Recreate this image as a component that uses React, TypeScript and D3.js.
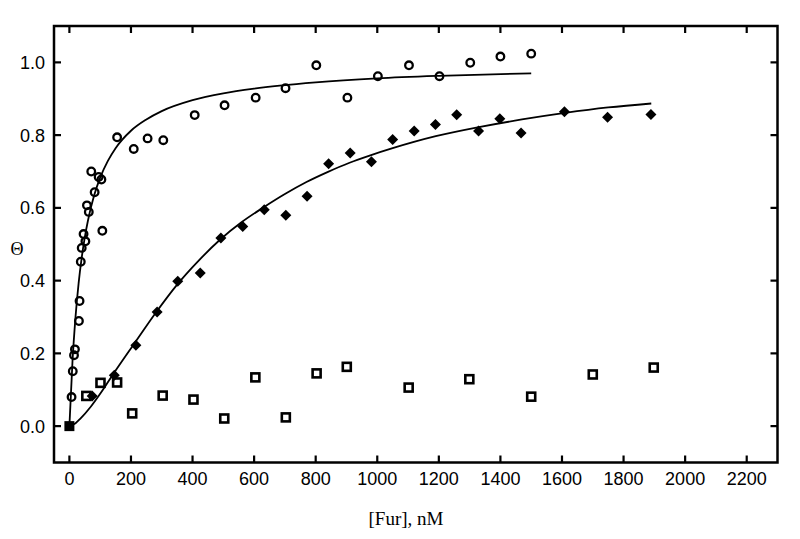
import React from "react";
import * as d3 from "d3";

const circleX = [7, 11, 15, 18, 31, 33, 37, 40, 46, 52, 57, 63, 71, 82, 95, 104, 107, 155, 209, 254, 305, 407, 504, 605, 702, 802, 903, 1002, 1103, 1202, 1302, 1400, 1500];
const circleY = [0.08, 0.151, 0.195, 0.211, 0.289, 0.344, 0.452, 0.49, 0.528, 0.508, 0.607, 0.589, 0.70, 0.643, 0.685, 0.678, 0.537, 0.794, 0.762, 0.791, 0.786, 0.855, 0.882, 0.903, 0.929, 0.992, 0.903, 0.962, 0.992, 0.962, 0.999, 1.016, 1.024];

const diamondX = [74, 146, 216, 285, 352, 425, 492, 563, 633, 703, 772, 842, 912, 981, 1050, 1120, 1189, 1258, 1329, 1398, 1467, 1608, 1748, 1889];
const diamondY = [0.083, 0.14, 0.222, 0.314, 0.398, 0.421, 0.517, 0.549, 0.595, 0.58, 0.632, 0.721, 0.751, 0.727, 0.788, 0.811, 0.829, 0.856, 0.811, 0.845, 0.806, 0.864, 0.849, 0.857];

const squareX = [55, 101, 155, 204, 303, 403, 503, 604, 703, 803, 901, 1102, 1299, 1500, 1700, 1898];
const squareY = [0.083, 0.119, 0.12, 0.035, 0.084, 0.073, 0.021, 0.134, 0.024, 0.145, 0.163, 0.106, 0.129, 0.081, 0.142, 0.161];

const originX = [0];
const originY = [0];

const fitCircleX = [0, 10, 20, 30, 40, 50, 60, 80, 100, 125, 150, 200, 250, 300, 400, 500, 600, 800, 1000, 1200, 1500];
const fitCircleY = [0, 0.177, 0.301, 0.393, 0.463, 0.519, 0.564, 0.633, 0.683, 0.729, 0.764, 0.812, 0.843, 0.866, 0.896, 0.915, 0.928, 0.945, 0.956, 0.963, 0.97];

const fitDiamondX = [0, 20, 35, 70, 105, 140, 210, 280, 350, 420, 490, 560, 630, 700, 770, 840, 910, 980, 1050, 1190, 1330, 1470, 1610, 1750, 1890];
const fitDiamondY = [0, 0.008, 0.02, 0.054, 0.095, 0.14, 0.226, 0.311, 0.389, 0.455, 0.513, 0.561, 0.601, 0.638, 0.671, 0.699, 0.724, 0.745, 0.764, 0.797, 0.822, 0.843, 0.861, 0.876, 0.887];

const xTicks = [0, 200, 400, 600, 800, 1000, 1200, 1400, 1600, 1800, 2000, 2200];
const yTicks = [0, 0.2, 0.4, 0.6, 0.8, 1.0];

const xTitle = "[Fur], nM";
const yTitle = "Θ";

export default function App() {
  const W = 800, H = 539;
  const left = 54, right = 777.5, top = 26, bottom = 462.5;
  const x = d3.scaleLinear().domain([-50, 2300]).range([left, right]);
  const y = d3.scaleLinear().domain([-0.1, 1.1]).range([bottom, top]);

  const line = d3.line<[number, number]>()
    .x((d) => x(d[0]))
    .y((d) => y(d[1]))
    .curve(d3.curveMonotoneX);

  const fitC = line(fitCircleX.map((v, i) => [v, fitCircleY[i]]) as [number, number][]) || "";
  const fitD = line(fitDiamondX.map((v, i) => [v, fitDiamondY[i]]) as [number, number][]) || "";

  const tickLen = 7;
  const sans = "'Liberation Sans', Arial, Helvetica, sans-serif";
  const serif = "'Liberation Serif', 'Times New Roman', serif";

  return (
    <svg width={W} height={H} style={{ position: "absolute", left: 0, top: 0, background: "#fff" }}>
      <rect x={0} y={0} width={W} height={H} fill="#fff" />
      {/* fit lines */}
      <path d={fitC} fill="none" stroke="#000" strokeWidth={1.8} />
      <path d={fitD} fill="none" stroke="#000" strokeWidth={1.8} />

      {/* squares */}
      {squareX.map((v, i) => (
        <rect key={"s" + i} x={x(v) - 4} y={y(squareY[i]) - 4} width={8} height={8}
          fill="none" stroke="#000" strokeWidth={2.6} />
      ))}
      {/* circles */}
      {circleX.map((v, i) => (
        <circle key={"c" + i} cx={x(v)} cy={y(circleY[i])} r={3.8}
          fill="none" stroke="#000" strokeWidth={2.3} />
      ))}
      {/* diamonds */}
      {diamondX.map((v, i) => {
        const cx = x(v), cy = y(diamondY[i]), r = 5.5;
        return (
          <path key={"d" + i} d={`M${cx},${cy - r}L${cx + r},${cy}L${cx},${cy + r}L${cx - r},${cy}Z`} fill="#000" />
        );
      })}
      {/* origin filled square */}
      {originX.map((v, i) => (
        <rect key={"o" + i} x={x(v) - 5} y={y(originY[i]) - 5} width={10} height={10} fill="#000" />
      ))}

      {/* frame */}
      <rect x={left} y={top} width={right - left} height={bottom - top} fill="none" stroke="#000" strokeWidth={2.5} />

      {/* x ticks */}
      {xTicks.map((t) => (
        <g key={"xt" + t}>
          <line x1={x(t)} x2={x(t)} y1={bottom} y2={bottom - tickLen} stroke="#000" strokeWidth={2.2} />
          <line x1={x(t)} x2={x(t)} y1={top} y2={top + tickLen} stroke="#000" strokeWidth={2.2} />
          <text x={x(t)} y={485} textAnchor="middle" fontFamily={sans} fontSize={18} fill="#000">{t}</text>
        </g>
      ))}
      {/* y ticks */}
      {yTicks.map((t) => (
        <g key={"yt" + t}>
          <line x1={left} x2={left + tickLen} y1={y(t)} y2={y(t)} stroke="#000" strokeWidth={2.2} />
          <line x1={right} x2={right - tickLen} y1={y(t)} y2={y(t)} stroke="#000" strokeWidth={2.2} />
          <text x={45} y={y(t)} dy="0.36em" textAnchor="end" fontFamily={sans} fontSize={18} fill="#000">{t.toFixed(1)}</text>
        </g>
      ))}

      <text x={406} y={525} textAnchor="middle" fontFamily={serif} fontSize={19} fill="#000">{xTitle}</text>
      <text x={17} y={249} dy="0.35em" textAnchor="middle" fontFamily={serif} fontSize={18} fill="#000">{yTitle}</text>
    </svg>
  );
}
